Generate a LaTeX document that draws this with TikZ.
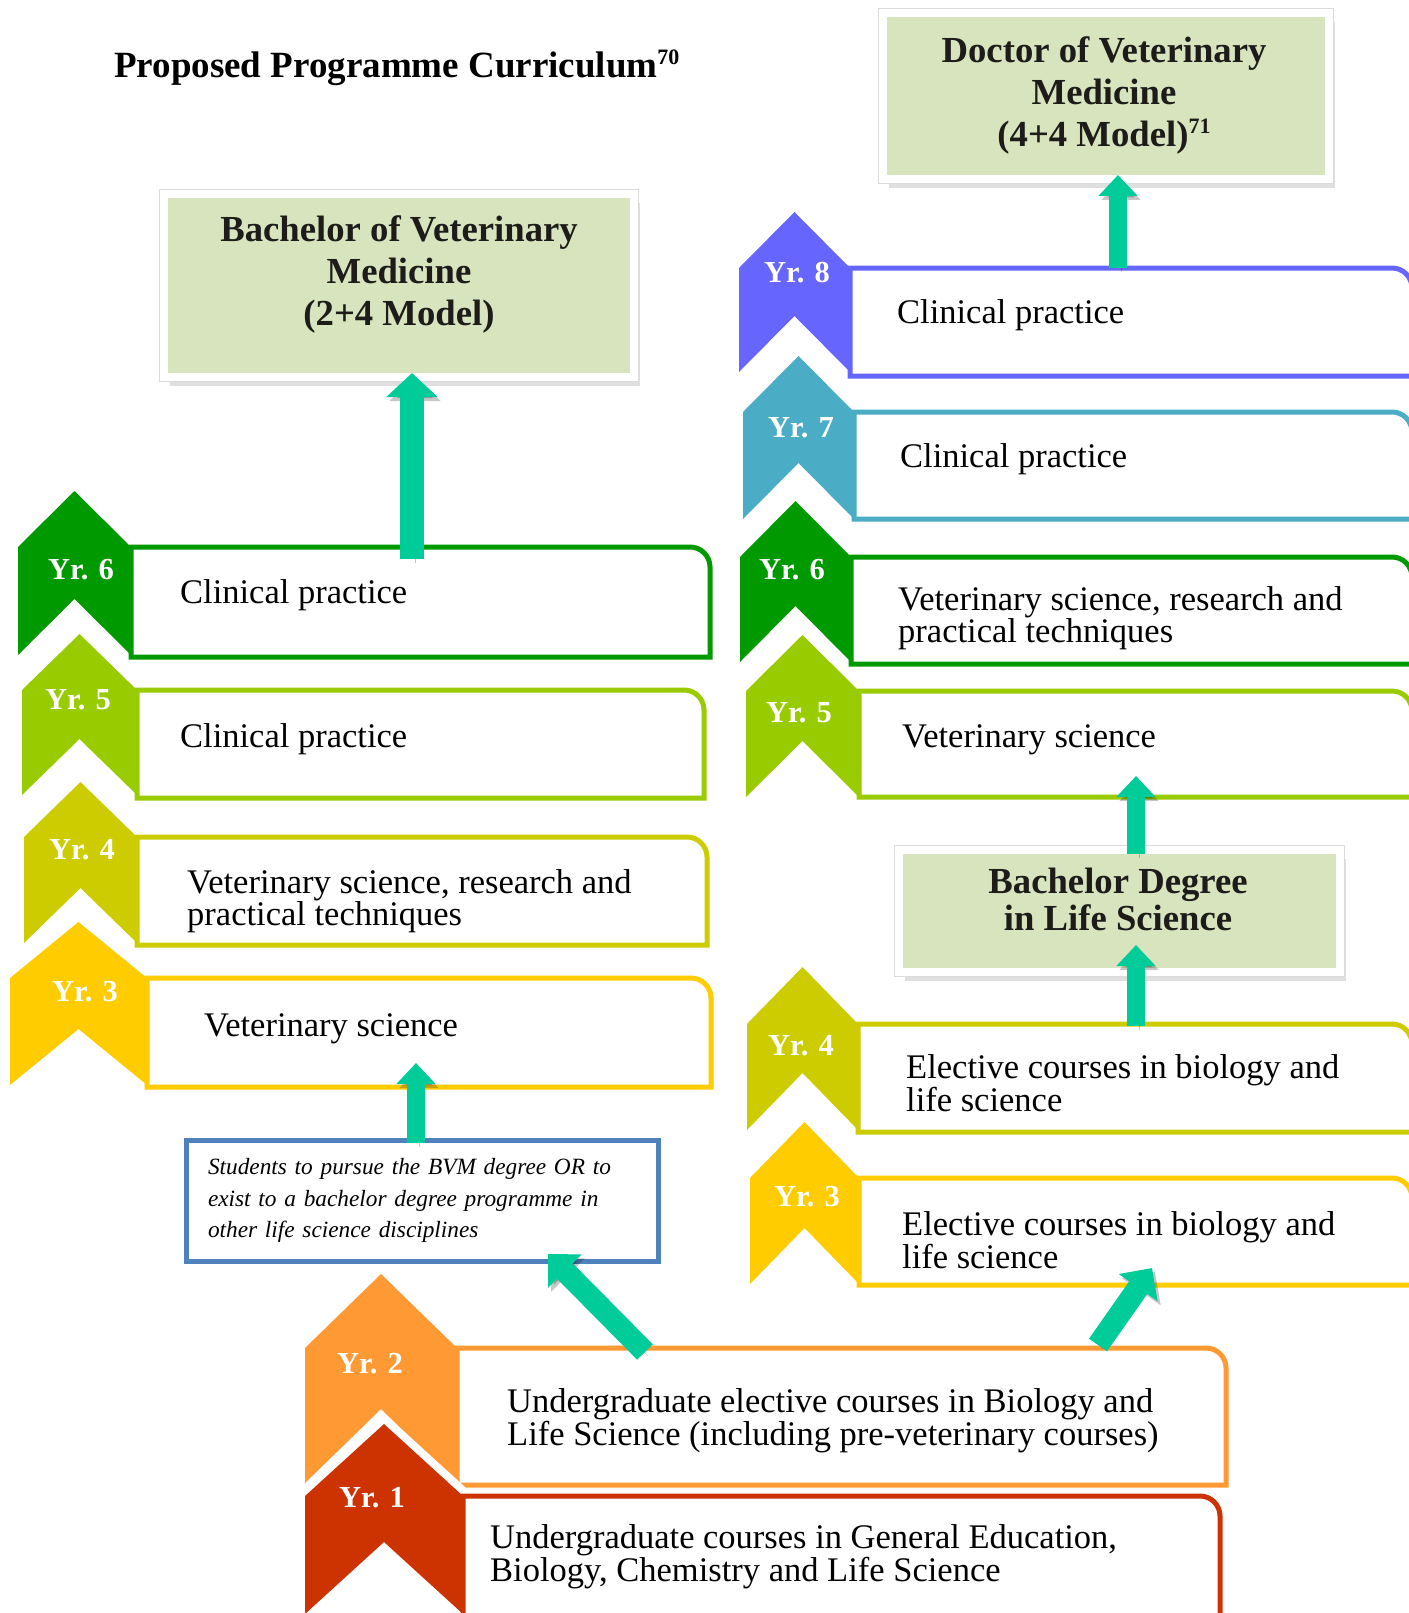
\documentclass[tikz,border=0pt]{standalone}
\usepackage{fontspec}
\setmainfont{Liberation Serif}
\usepackage{tikz}
\usetikzlibrary{arrows.meta}
\usetikzlibrary{shadows}

\definecolor{yrone}{HTML}{CC3300}
\definecolor{yrtwo}{HTML}{FF9933}
\definecolor{yrthree}{HTML}{FFCC00}
\definecolor{yrfour}{HTML}{CCCC00}
\definecolor{yrfive}{HTML}{99CC00}
\definecolor{yrsix}{HTML}{009900}
\definecolor{yrseven}{HTML}{4BACC6}
\definecolor{yreight}{HTML}{6666FF}
\definecolor{arrowteal}{HTML}{00CC99}
\definecolor{degfill}{HTML}{D7E4BD}
\definecolor{noteblue}{HTML}{4F81BD}
\definecolor{headink}{HTML}{1E1C1A}

\newcommand{\yearband}[9]{% name, colour, x left, x right, box end, top, box bottom, chevron bottom, peak
	\draw[white, line width=16pt, line join=miter] (#3, #6) -- ({(#3+#4)/2}, {#6-#9}) -- (#4, #6);
	\draw[#2, line width=5pt, fill=white] (#4, #7) -- (#4, #6) -- ({#5-20}, #6) .. controls ({#5-9}, #6) and (#5, {#6+9}) .. (#5, {#6+20}) -- (#5, #7) -- cycle;
	\fill[#2] (#3, #6) -- ({(#3+#4)/2}, {#6-#9}) -- (#4, #6) -- (#4, #8) -- ({(#3+#4)/2}, {#8-#9}) -- (#3, #8) -- cycle;
	\coordinate (#1) at ({(#3+#4)/2}, #6);
}
\newcommand{\supnum}[1]{\raisebox{13pt}{\fontsize{22}{22}\selectfont #1}}

\tikzset{
	titletext/.style={anchor=base west, inner sep=0pt, font=\fontsize{37}{42}\selectfont\bfseries},
	yrlabel/.style={anchor=base, inner sep=0pt, text=white, font=\fontsize{30.5}{32}\selectfont\bfseries},
	yrtext/.style={anchor=north west, inner sep=0pt, align=left, font=\fontsize{34.5}{31.5}\selectfont},
	degbox/.style={fill=degfill, draw=white, line width=8pt, outer sep=-4pt,
		drop shadow={shadow xshift=6pt, shadow yshift=-9pt, opacity=0.25},
		preaction={draw=black!14, line width=10pt}},
	degtext/.style={anchor=north, inner sep=0pt, align=center, text=headink, font=\fontsize{36.7}{42}\selectfont\bfseries},
	notebox/.style={draw=noteblue, line width=5pt, fill=white, minimum width=472pt, minimum height=121pt, text width=428pt, inner xsep=22pt, align=left, font=\fontsize{23.3}{31.5}\selectfont\itshape},
	arrowbase/.style={arrowteal, preaction={draw=black, opacity=0.22, transform canvas={shift={(3pt,-4pt)}}}},
	bigarrow/.style={arrowbase, line width=24pt, -{Triangle[width=50pt, length=24pt]}},
	smallarrow/.style={arrowbase, line width=18pt, -{Triangle[width=38pt, length=21pt]}},
	diagarrow/.style={arrowbase, line width=22pt, -{Triangle[width=46pt, length=24pt]}}
}

\begin{document}
\begin{tikzpicture}[x=1pt, y=-1pt]

\useasboundingbox (0, 0) rectangle (1408, 1613);
\fill[white] (0, 0) rectangle (1408, 1613);

\node[titletext] (title) at (114, 78) {Proposed Programme Curriculum\supnum{70}};

% left column
\yearband{l6}{yrsix}{18}{131}{710}{547}{657}{655}{56}
\yearband{l5}{yrfive}{22}{137}{704}{690}{798}{795}{56}
\yearband{l4}{yrfour}{24}{137}{707}{837}{945}{943}{55}
\yearband{l3}{yrthree}{10}{147}{711}{978}{1087}{1085}{56}

% right column
\yearband{r8}{yreight}{739}{850}{1412}{268}{376}{372}{56}
\yearband{r7}{yrseven}{743}{854}{1412}{412}{519}{519}{56}
\yearband{r6}{yrsix}{740}{851}{1412}{557}{664}{662}{56}
\yearband{r5}{yrfive}{746}{859}{1412}{691}{797}{797}{56}
\yearband{r4}{yrfour}{747}{858}{1412}{1024}{1132}{1130}{57}
\yearband{r3}{yrthree}{750}{859}{1412}{1178}{1285}{1284}{56}

% first two years
\yearband{b2}{yrtwo}{305}{457}{1226}{1348}{1485}{1483}{74}
\yearband{b1}{yrone}{305}{463}{1220}{1496}{1650}{1614}{72}

\node[degbox, minimum width=470pt, minimum height=183pt] (bvm) at (398.5, 285.5) {};
\node[degbox, minimum width=446.5pt, minimum height=165.5pt] (dvm) at (1105.75, 96.25) {};
\node[degbox, minimum width=440.5pt, minimum height=122.5pt] (lsc) at (1119.25, 910.75) {};

\node[degtext] (bvmtxt) at (399, 215.6) {Bachelor of Veterinary\\Medicine\\(2+4 Model)};
\node[degtext] (dvmtxt) at (1104, 36.6) {Doctor of Veterinary\\Medicine\\(4+4 Model)\supnum{71}};
\node[degtext, font=\fontsize{36.7}{37}\selectfont\bfseries] (lsctxt) at (1118, 868.2) {Bachelor Degree\\in Life Science};

\node[notebox] (note) at (422, 1200.5) {Students to pursue the BVM degree OR to\\exist to a bachelor degree programme in\\other life science disciplines};

\coordinate (a1) at (412, 559);
\coordinate (a2) at (416, 1143);
\coordinate (a2tip) at (416, 1063);
\coordinate (a3) at (645, 1352);
\coordinate (a3tip) at (548, 1254);
\coordinate (a4) at (1098, 1345);
\coordinate (a4tip) at (1152, 1268);
\coordinate (a5tip) at (1136, 776);
\coordinate (a6) at (1136, 1026);
\coordinate (a6tip) at (1136, 945);
\coordinate (a7) at (1118, 268);

\draw[bigarrow] (a1) -- (a1 |- bvm.south);
\draw[smallarrow] (a2) -- (a2tip);
\draw[diagarrow] (a3) -- (a3tip);
\draw[diagarrow] (a4) -- (a4tip);
\draw[smallarrow] (a5tip |- lsc.north) -- (a5tip);
\draw[smallarrow] (a6) -- (a6tip);
\draw[smallarrow] (a7) -- (a7 |- dvm.south);

\node[yrlabel] (l6lbl) at (81, 579) {Yr. 6};
\node[yrlabel] (l5lbl) at (78, 709) {Yr. 5};
\node[yrlabel] (l4lbl) at (82, 859) {Yr. 4};
\node[yrlabel] (l3lbl) at (85, 1001) {Yr. 3};
\node[yrlabel] (r8lbl) at (797, 282) {Yr. 8};
\node[yrlabel] (r7lbl) at (801, 437) {Yr. 7};
\node[yrlabel] (r6lbl) at (792, 579) {Yr. 6};
\node[yrlabel] (r5lbl) at (799, 722) {Yr. 5};
\node[yrlabel] (r4lbl) at (801, 1055) {Yr. 4};
\node[yrlabel] (r3lbl) at (807, 1206) {Yr. 3};
\node[yrlabel] (b2lbl) at (370, 1373) {Yr. 2};
\node[yrlabel] (b1lbl) at (372, 1507) {Yr. 1};

\node[yrtext] (l6txt) at (180, 579.4) {Clinical practice};
\node[yrtext] (l5txt) at (180, 723.4) {Clinical practice};
\node[yrtext] (l4txt) at (187, 869.4) {Veterinary science, research and\\practical techniques};
\node[yrtext] (l3txt) at (204, 1013.4) {Veterinary science};
\node[yrtext] (r8txt) at (897, 299.4) {Clinical practice};
\node[yrtext] (r7txt) at (900, 443.4) {Clinical practice};
\node[yrtext] (r6txt) at (898, 586.4) {Veterinary science, research and\\practical techniques};
\node[yrtext] (r5txt) at (902, 724.4) {Veterinary science};
\node[yrtext] (r4txt) at (906, 1054.4) {Elective courses in biology and\\life science};
\node[yrtext] (r3txt) at (902, 1211.4) {Elective courses in biology and\\life science};
\node[yrtext] (b2txt) at (507, 1388.4) {Undergraduate elective courses in Biology and\\Life Science (including pre-veterinary courses)};
\node[yrtext] (b1txt) at (490, 1524.4) {Undergraduate courses in General Education,\\Biology, Chemistry and Life Science};

\end{tikzpicture}
\end{document}
